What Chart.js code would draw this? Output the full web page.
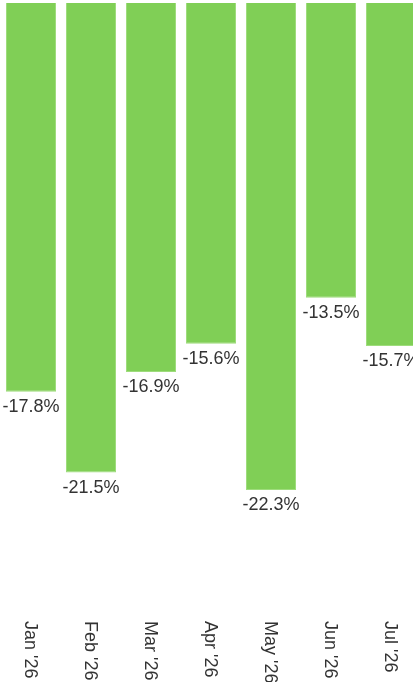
<!DOCTYPE html>
<html>
<head>
<meta charset="utf-8">
<script src="https://cdn.jsdelivr.net/npm/chart.js@4/dist/chart.umd.min.js"></script>
<style>
  html, body { margin: 0; padding: 0; background: #ffffff; overflow: hidden; }
  #wrap { position: absolute; left: 0; top: 0; width: 440px; height: 700px; }
</style>
</head>
<body>
<div id="wrap"><canvas id="c" width="440" height="700"></canvas></div>
<script>
const categories = ["Jan '26", "Feb '26", "Mar '26", "Apr '26", "May '26", "Jun '26", "Jul '26"];
const values = [-17.8, -21.5, -16.9, -15.6, -22.3, -13.5, -15.7];
const yMin = -25;
const yMax = 0;

const FONT = '18px "Liberation Sans", Arial, sans-serif';
const TEXT_COLOR = '#333333';

const labelPlugin = {
  id: 'customLabels',
  afterDatasetsDraw(chart) {
    const ctx = chart.ctx;
    const meta = chart.getDatasetMeta(0);
    const xScale = chart.scales.x;
    ctx.save();
    ctx.font = FONT;
    ctx.fillStyle = TEXT_COLOR;
    // value labels under each bar
    ctx.textAlign = 'center';
    ctx.textBaseline = 'alphabetic';
    meta.data.forEach((bar, i) => {
      const v = chart.data.datasets[0].data[i];
      ctx.fillText(v.toFixed(1) + '%', bar.x, bar.y + 20);
    });
    // category labels, rotated clockwise
    categories.forEach((cat, i) => {
      const x = xScale.getPixelForValue(i);
      ctx.save();
      ctx.translate(x - 6, 621);
      ctx.rotate(Math.PI / 2);
      ctx.textAlign = 'left';
      ctx.textBaseline = 'alphabetic';
      ctx.fillText(cat, 0, 0);
      ctx.restore();
    });
    ctx.restore();
  }
};

new Chart(document.getElementById('c'), {
  type: 'bar',
  data: {
    labels: categories,
    datasets: [{
      data: values,
      backgroundColor: '#80cf56',
      borderColor: '#9edc7c',
      borderWidth: 1,
      categoryPercentage: 1,
      barPercentage: 50 / 60
    }]
  },
  options: {
    responsive: false,
    animation: false,
    layout: { padding: { left: 1, top: 3, right: 19, bottom: 151 } },
    plugins: { legend: { display: false }, tooltip: { enabled: false } },
    scales: {
      x: { display: false },
      y: { display: false, min: yMin, max: yMax }
    }
  },
  plugins: [labelPlugin]
});
</script>
</body>
</html>
